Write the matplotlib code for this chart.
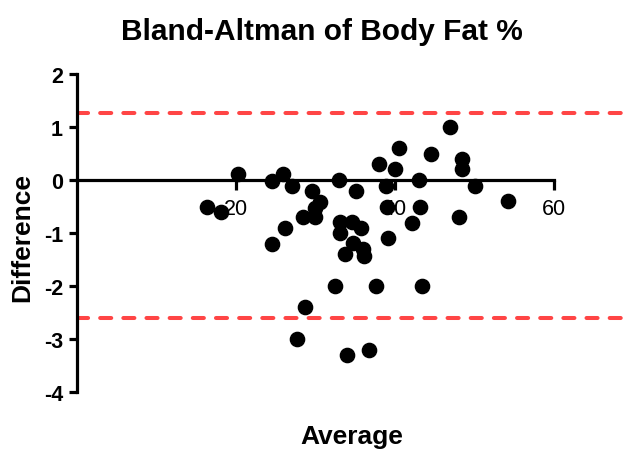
import matplotlib.pyplot as plt

plt.rcParams['font.family'] = ['Liberation Sans', 'DejaVu Sans']

# average of the two methods vs their difference
avg = [16.3, 18.1, 20.3, 24.5, 25.9, 27.0, 29.6, 30.6, 29.9, 28.5,
       29.9, 26.2, 24.5, 33.0, 35.1, 33.1, 34.6, 35.8, 33.1, 34.7,
       33.7, 36.0, 36.1, 32.5, 28.7, 27.7, 34.0, 36.8, 37.6, 43.4,
       38.0, 38.9, 40.0, 40.5, 43.1, 44.5, 47.0, 48.4, 48.5, 50.1,
       54.3, 39.0, 43.2, 48.1, 42.2, 39.2]
diff = [-0.50, -0.61, 0.11, -0.01, 0.11, -0.12, -0.20, -0.41, -0.52, -0.70,
        -0.70, -0.91, -1.21, 0.00, -0.21, -0.80, -0.80, -0.91, -1.00, -1.18,
        -1.40, -1.30, -1.43, -2.00, -2.40, -3.00, -3.30, -3.21, -2.00, -2.00,
        0.30, -0.11, 0.20, 0.60, 0.00, 0.50, 1.00, 0.40, 0.20, -0.11,
        -0.40, -0.50, -0.50, -0.70, -0.81, -1.10]

# limits of agreement
upper_loa = 1.26
lower_loa = -2.60

xticks = [20, 40, 60]
yticks = [-4, -3, -2, -1, 0, 1, 2]

fig = plt.figure(figsize=(6.43, 4.52), dpi=100)
ax = fig.add_axes([77 / 643, 1 - 393 / 452, 553 / 643, 318 / 452])

ax.axhline(upper_loa, color='#ff4545', lw=2.9, dashes=(2.75, 3),
           dash_capstyle='round', zorder=1)
ax.axhline(lower_loa, color='#ff4545', lw=2.9, dashes=(2.75, 3),
           dash_capstyle='round', zorder=1)
ax.scatter(avg, diff, s=105, color='black', zorder=5, clip_on=False)

ax.set_xlim(0, 69.6)
ax.set_ylim(-4, 2)

# Prism-style axes: x axis crosses at zero
ax.spines['top'].set_visible(False)
ax.spines['right'].set_visible(False)
ax.spines['bottom'].set_position(('data', 0))
ax.spines['bottom'].set_bounds(0, 60)
ax.spines['left'].set_bounds(-4, 2)
for s in ('bottom', 'left'):
    ax.spines[s].set_linewidth(2.3)
    ax.spines[s].set_zorder(3)

ax.set_xticks(xticks)
ax.set_yticks(yticks)
ax.set_xticklabels([str(t) for t in xticks], fontsize=15.5)
ax.set_yticklabels([str(t) for t in yticks], fontsize=15.5, fontweight='bold')
ax.tick_params(axis='x', direction='out', length=7, width=2.3, pad=6)
ax.tick_params(axis='y', direction='out', length=6, width=2.3, pad=4)

fig.text(0.5, 1 - 40 / 452, 'Bland-Altman of Body Fat %', ha='center',
         va='baseline', fontsize=21.5, fontweight='bold')
fig.text(352 / 643, 1 - 437 / 452, 'Average', ha='center', va='center',
         fontsize=19, fontweight='bold')
fig.text(22 / 643, 1 - 237 / 452, 'Difference', ha='center', va='center',
         rotation=90, fontsize=19, fontweight='bold')

fig.savefig('out.png', dpi=100)
